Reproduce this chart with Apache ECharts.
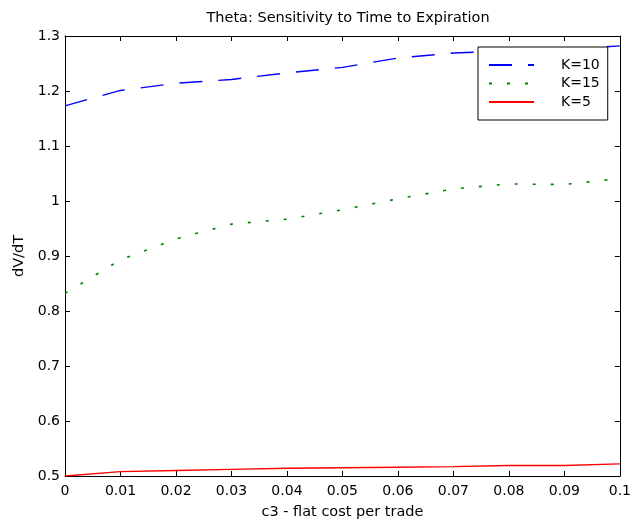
<!DOCTYPE html>
<html>
<head>
<meta charset="utf-8">
<script src="https://cdn.jsdelivr.net/npm/echarts@6/dist/echarts.min.js"></script>
<style>
html,body{margin:0;padding:0;background:#fff;}
#main{width:634px;height:525px;}
</style>
</head>
<body>
<div id="main"></div>
<script>
var xValues = [0, 0.01, 0.02, 0.03, 0.04, 0.05, 0.06, 0.07, 0.08, 0.09, 0.1];
var k10 = [1.173, 1.201, 1.214, 1.221, 1.233, 1.243, 1.260, 1.269, 1.273, 1.276, 1.282];
var k15 = [0.832, 0.893, 0.931, 0.958, 0.967, 0.984, 1.004, 1.022, 1.031, 1.030, 1.041];
var k5  = [0.500, 0.508, 0.510, 0.512, 0.514, 0.515, 0.516, 0.517, 0.519, 0.519, 0.522];
var seriesNames = ['K=10', 'K=15', 'K=5'];
var titleText = 'Theta: Sensitivity to Time to Expiration';
var xName = 'c3 - flat cost per trade';
var yName = 'dV/dT';

function pairs(ys) { return xValues.map(function (x, i) { return [x, ys[i]]; }); }

var FONT = 'DejaVu Sans';
var chart = echarts.init(document.getElementById('main'), null, {renderer: 'canvas'});

var axisCommon = {
  axisLine: {show: true, onZero: false, lineStyle: {color: '#000', width: 1}},
  axisTick: {show: true, inside: true, length: 5, lineStyle: {color: '#000', width: 1}},
  splitLine: {show: false}
};

chart.setOption({
  animation: false,
  backgroundColor: '#fff',
  title: {
    text: titleText,
    left: 343,
    top: 6,
    textAlign: 'center',
    textStyle: {fontFamily: FONT, fontSize: 14.5, fontWeight: 'normal', color: '#000'}
  },
  grid: {left: 65, right: 13, top: 36, bottom: 49, containLabel: false},
  legend: {
    data: seriesNames,
    orient: 'vertical',
    left: 478,
    top: 47,
    itemWidth: 45,
    itemHeight: 14,
    itemGap: 4.5,
    padding: [11, 8, 11, 10],
    backgroundColor: '#fff',
    borderColor: '#000',
    borderWidth: 1,
    borderRadius: 0,
    itemStyle: {opacity: 0},
    textStyle: {fontFamily: FONT, fontSize: 14, color: '#000', padding: [0, 0, 0, 22]}
  },
  xAxis: [
    Object.assign({
      type: 'value', min: 0, max: 0.1, interval: 0.01, position: 'bottom',
      name: xName, nameLocation: 'middle', nameGap: 29,
      nameTextStyle: {fontFamily: FONT, fontSize: 14.5, color: '#000'},
      axisLabel: {fontFamily: FONT, fontSize: 14, color: '#000', margin: 8}
    }, axisCommon),
    Object.assign({
      type: 'value', min: 0, max: 0.1, interval: 0.01, position: 'top',
      axisLabel: {show: false}
    }, axisCommon)
  ],
  yAxis: [
    Object.assign({
      type: 'value', min: 0.5, max: 1.3, interval: 0.1, position: 'left',
      name: yName, nameLocation: 'middle', nameGap: 37,
      nameTextStyle: {fontFamily: FONT, fontSize: 14.5, color: '#000'},
      axisLabel: {fontFamily: FONT, fontSize: 14, color: '#000', margin: 5}
    }, axisCommon),
    Object.assign({
      type: 'value', min: 0.5, max: 1.3, interval: 0.1, position: 'right',
      axisLabel: {show: false}
    }, axisCommon)
  ],
  series: [
    {
      name: seriesNames[0], type: 'line', data: pairs(k10), symbol: 'none',
      color: '#0000ff',
      lineStyle: {color: '#0000ff', width: 1.4, type: [23, 16]}
    },
    {
      name: seriesNames[1], type: 'line', data: pairs(k15), symbol: 'none',
      color: '#008000',
      lineStyle: {color: '#008000', width: 1.6, type: [3, 15]}
    },
    {
      name: seriesNames[2], type: 'line', data: pairs(k5), symbol: 'none',
      color: '#ff0000',
      lineStyle: {color: '#ff0000', width: 1.4}
    }
  ]
});
</script>
</body>
</html>
